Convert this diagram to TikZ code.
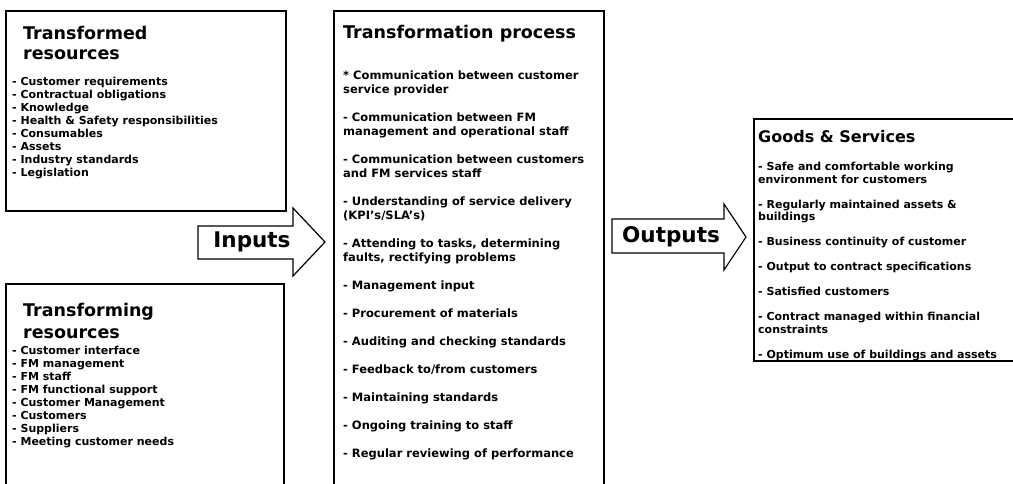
\documentclass[tikz,border=0pt]{standalone}
\usepackage{fontspec}
\setmainfont{DejaVu Sans}
\usepackage{tikz}
\usetikzlibrary{positioning}

\begin{document}
\begin{tikzpicture}[
    x=1pt, y=-1pt,
    panel/.style={
      draw=black,
      line width=1.8pt,
      fill=white,
      anchor=north west,
      inner sep=0pt
    },
    heading/.style={
      anchor=north west,
      inner sep=0pt,
      align=left,
      font=\bfseries\fontsize{17.5}{20}\selectfont
    },
    sidelist/.style={
      anchor=north west,
      inner sep=0pt,
      align=left,
      font=\bfseries\fontsize{11}{13}\selectfont
    },
    flowlist/.style={
      anchor=north west,
      inner sep=0pt,
      align=left,
      font=\bfseries\fontsize{11.5}{14}\selectfont
    },
    goodslist/.style={
      anchor=north west,
      inner sep=0pt,
      align=left,
      font=\bfseries\fontsize{11}{12.5}\selectfont
    },
    bigarrow/.style={
      draw=black,
      line width=1.2pt,
      fill=white,
      line join=miter
    },
    arrowtext/.style={
      inner sep=0pt,
      font=\bfseries\fontsize{21.5}{24}\selectfont
    }
  ]
  \useasboundingbox (0,0) rectangle (1013,484);
  \clip (0,0) rectangle (1013,484);

  % the four boxes
  \node[panel, minimum width=280pt, minimum height=200pt] (transformed) at (5,10) {};
  \node[panel, minimum width=278pt, minimum height=215pt] (transforming) at (5,283) {};
  \node[panel, minimum width=270pt, minimum height=485pt] (process) at (333,10) {};
  \node[panel, minimum width=265pt, minimum height=242pt] (goods) at (753,118) {};

  % headings
  \node[heading, below right=16pt and 18pt of transformed.north west] (transformedtitle) {Transformed\\resources};
  \node[heading, below right=20pt and 18pt of transforming.north west] (transformingtitle) {Transforming\\[2pt]resources};
  \node[heading, below right=15pt and 10pt of process.north west] (processtitle) {Transformation process};
  \node[heading, font=\bfseries\fontsize{16}{19}\selectfont, below right=12pt and 5pt of goods.north west] (goodstitle) {Goods \& Services};

  % lists
  \node[sidelist, below right=66.5pt and 7pt of transformed.north west] (transformedlist) {%
    - Customer requirements\\
    - Contractual obligations\\
    - Knowledge\\
    - Health \& Safety responsibilities\\
    - Consumables\\
    - Assets\\
    - Industry standards\\
    - Legislation};
  \node[sidelist, below right=62.5pt and 7pt of transforming.north west] (transforminglist) {%
    - Customer interface\\
    - FM management\\
    - FM staff\\
    - FM functional support\\
    - Customer Management\\
    - Customers\\
    - Suppliers\\
    - Meeting customer needs};
  \node[flowlist, below right=60.5pt and 10pt of process.north west] (processlist) {%
    * Communication between customer\\
    service provider\\[14pt]
    - Communication between FM\\
    management and operational staff\\[14pt]
    - Communication between customers\\
    and FM services staff\\[14pt]
    - Understanding of service delivery\\
    (KPI's/SLA's)\\[14pt]
    - Attending to tasks, determining\\
    faults, rectifying problems\\[14pt]
    - Management input\\[14pt]
    - Procurement of materials\\[14pt]
    - Auditing and checking standards\\[14pt]
    - Feedback to/from customers\\[14pt]
    - Maintaining standards\\[14pt]
    - Ongoing training to staff\\[14pt]
    - Regular reviewing of performance};
  \node[goodslist, below right=44pt and 5pt of goods.north west] (goodslist) {%
    - Safe and comfortable working\\
    environment for customers\\[12.5pt]
    - Regularly maintained assets \&\\
    buildings\\[12.5pt]
    - Business continuity of customer\\[12.5pt]
    - Output to contract specifications\\[12.5pt]
    - Satisfied customers\\[12.5pt]
    - Contract managed within financial\\
    constraints\\[12.5pt]
    - Optimum use of buildings and assets};

  % block arrows
  \draw[bigarrow] (198,226) -- (293,226) -- (293,208) -- (325,242) -- (293,276) -- (293,259) -- (198,259) -- cycle;
  \node[arrowtext] (inputs) at (252,242) {Inputs};
  \draw[bigarrow] (612,219) -- (724,219) -- (724,204) -- (746,237) -- (724,270) -- (724,253) -- (612,253) -- cycle;
  \node[arrowtext] (outputs) at (671,237) {Outputs};

\end{tikzpicture}
\end{document}
